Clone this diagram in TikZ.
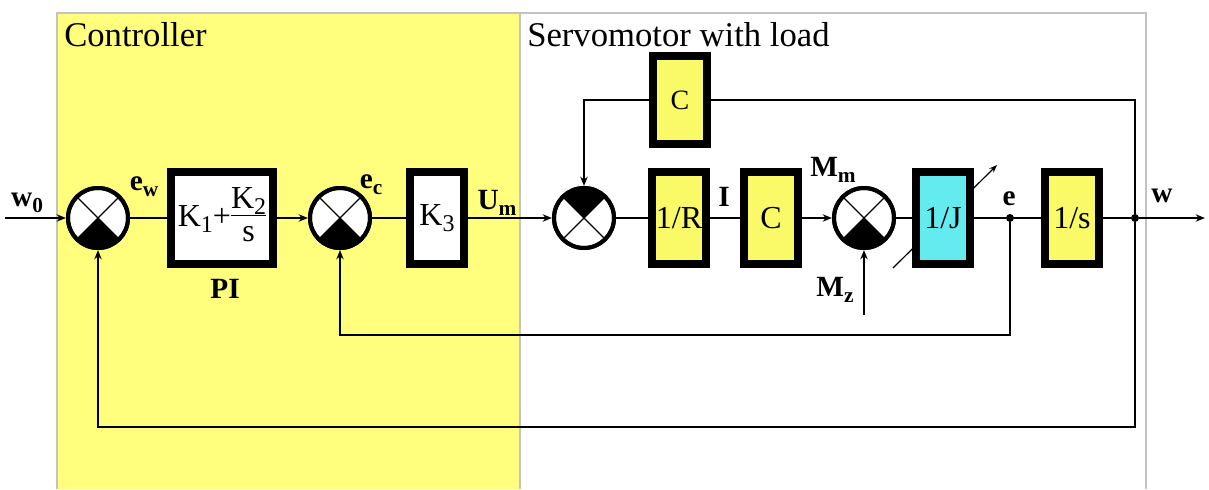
\documentclass[tikz,border=0pt]{standalone}
\usepackage{fontspec}
\setmainfont{Liberation Serif}
\usetikzlibrary{arrows.meta}
\definecolor{bgyellow}{RGB}{255,255,125}
\definecolor{boxyellow}{RGB}{250,250,105}
\definecolor{boxcyan}{RGB}{100,235,240}
\definecolor{framegray}{RGB}{195,195,195}
\newcommand{\lsub}[1]{\raisebox{-0.45ex}{\fontsize{16}{16}\selectfont #1}}
\newcommand{\bsub}[1]{\raisebox{-0.4ex}{\fontsize{18}{18}\selectfont #1}}
\newcommand{\sumj}[3]{%
  \node[sumnode] (#1) at (#2) {};
  \fill[black] (#1.center) -- ++(#3-45:22.5pt) arc[start angle=#3-45,end angle=#3+45,radius=22.5pt] -- cycle;
  \draw[line width=0.9pt] (#1.45) -- (#1.-135) (#1.135) -- (#1.-45);
  \draw[line width=3pt] (#1.center) circle[radius=22.5pt];
}
\begin{document}
\begin{tikzpicture}[x=0.75pt,y=-0.75pt,
  box/.style={draw=black,line width=6pt,minimum width=40pt,minimum height=69pt,inner sep=0pt,font=\fontsize{24}{26}\selectfont},
  sumnode/.style={circle,draw=black,fill=white,line width=3pt,minimum size=45pt,inner sep=0pt},
  sig/.style={line width=1.3pt},
  arr/.style={sig,-{Stealth[length=7pt,width=5.5pt]}},
  lbl/.style={font=\fontsize{22}{24}\selectfont\bfseries,inner sep=0pt},
  dotn/.style={circle,fill=black,minimum size=6pt,inner sep=0pt},
  head/.style={font=\fontsize{26}{28}\selectfont,anchor=base west,inner sep=0pt}]
\useasboundingbox (0,0) rectangle (1209,489);
% background regions
\fill[bgyellow] (57,13) rectangle (520,489);
\draw[framegray,line width=1pt] (57,489) -- (57,13) -- (1146,13) -- (1146,489);
\draw[framegray,line width=1pt] (520,13) -- (520,489);
\node[head] (hc) at (64,46) {Controller};
\node[head] (hs) at (527,46) {Servomotor with load};
% 1/J adjustment arrow (behind box)
\coordinate (jd1) at (893,268);
\coordinate (jd2) at (997,165);
\draw[line width=0.9pt,-{Stealth[length=6pt,width=4.5pt]}] (jd1) -- (jd2);
% sum junctions
\sumj{s1}{98,218}{-90}
\sumj{s2}{340,218}{-90}
\sumj{s3}{584,218}{90}
\sumj{s4}{864,218}{-90}
% blocks
\node[box,fill=white,minimum width=76.5pt] (pi) at (222,218)
  {K\bsub{1}+\begin{tabular}{@{}c@{}}K\bsub{2}\\[-3pt]\hline\rule{0pt}{19pt}s\end{tabular}};
\node[box,fill=white] (k3) at (437,218) {K\bsub{3}};
\node[box,fill=boxyellow] (r) at (679,218) {1/R};
\node[box,fill=boxyellow] (c1) at (771,218) {C};
\node[box,fill=boxcyan] (j) at (943,218) {1/J};
\node[box,fill=boxyellow] (si) at (1072,218) {1/s};
\node[box,fill=boxyellow,minimum height=66pt,font=\fontsize{21}{23}\selectfont] (c2) at (680,100) {C};
% branch points
\node[dotn] (edot) at (1010,218) {};
\node[dotn] (wdot) at (1135,218) {};
\coordinate (in) at (5,218);
\coordinate (out) at (1205,218);
\coordinate (mz) at (864,315);
% forward path
\draw[arr] (in) -- (s1);
\draw[sig] (s1) -- (pi);
\draw[arr] (pi) -- (s2);
\draw[sig] (s2) -- (k3);
\draw[arr] (k3) -- (s3);
\draw[sig] (s3) -- (r);
\draw[sig] (r) -- (c1);
\draw[arr] (c1) -- (s4);
\draw[sig] (s4) -- (j);
\draw[sig] (j) -- (edot);
\draw[sig] (edot) -- (si);
\draw[sig] (si) -- (wdot);
\draw[arr] (wdot) -- (out);
% feedback paths
\draw[arr] (edot) -- ++(0,117) -| (s2);
\draw[arr] (wdot) -- ++(0,209) -| (s1);
\draw[sig] (wdot) |- (c2);
\draw[arr] (c2) -| (s3);
\draw[arr] (mz) -- (s4);
% labels
\node[lbl] (lw0) at (27,203) {w\lsub{0}};
\node[lbl] (lew) at (144,187) {e\lsub{w}};
\node[lbl] (lpi) at (225,289) {PI};
\node[lbl] (lec) at (371,185) {e\lsub{c}};
\node[lbl] (lum) at (497,203) {U\lsub{m}};
\node[lbl] (li) at (724,197) {I};
\node[lbl] (lmm) at (833,170) {M\lsub{m}};
\node[lbl] (lmz) at (835,290) {M\lsub{z}};
\node[lbl] (le) at (1009,199) {e};
\node[lbl] (lw) at (1162,196) {w};
\end{tikzpicture}
\end{document}
